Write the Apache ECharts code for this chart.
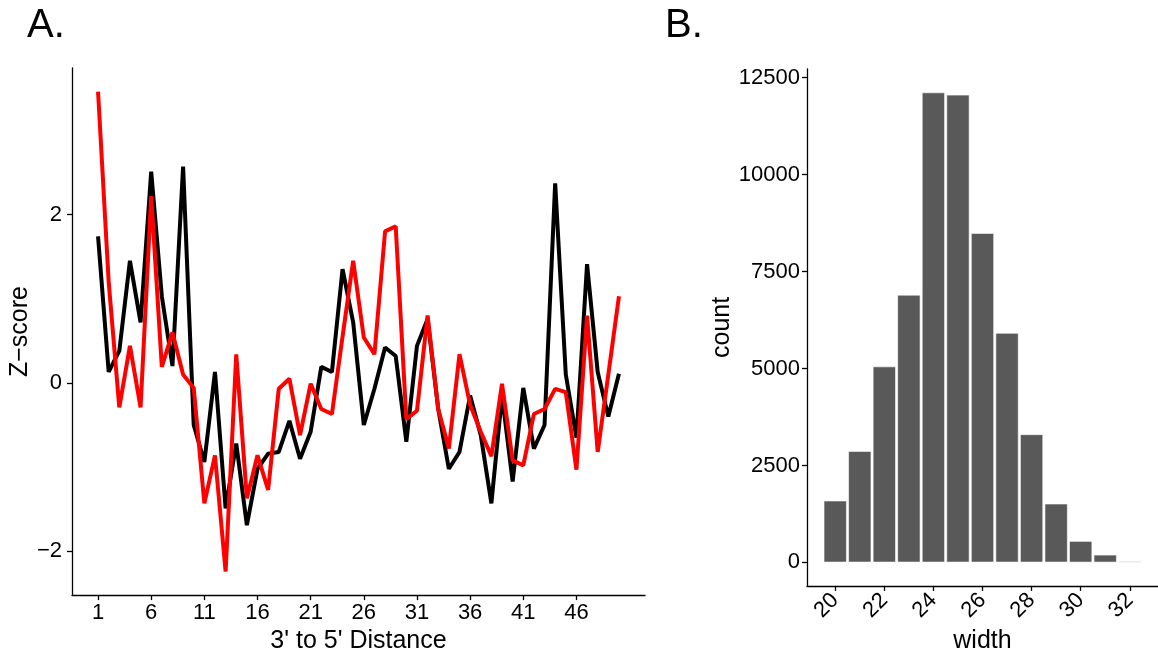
<!DOCTYPE html>
<html>
<head>
<meta charset="utf-8">
<script src="https://cdn.jsdelivr.net/npm/echarts@6/dist/echarts.min.js"></script>
<style>
  html, body { margin: 0; padding: 0; background: #fff; }
  #main { width: 1158px; height: 659px; }
</style>
</head>
<body>
<div id="main"></div>
<script>
// panel A: z-scores by 3' to 5' distance
const distance = [1, 2, 3, 4, 5, 6, 7, 8, 9, 10, 11, 12, 13, 14, 15, 16, 17, 18, 19, 20,
  21, 22, 23, 24, 25, 26, 27, 28, 29, 30, 31, 32, 33, 34, 35, 36, 37, 38, 39, 40,
  41, 42, 43, 44, 45, 46, 47, 48, 49, 50];
const blackZ = [1.74, 0.13, 0.38, 1.45, 0.72, 2.51, 1.03, 0.2, 2.57, -0.5,
  -0.94, 0.13, -1.49, -0.72, -1.69, -1.02, -0.84, -0.82, -0.45, -0.9,
  -0.58, 0.19, 0.13, 1.35, 0.72, -0.5, -0.07, 0.42, 0.32, -0.7,
  0.44, 0.76, -0.31, -1.02, -0.82, -0.15, -0.62, -1.43, -0.15, -1.17,
  -0.06, -0.78, -0.5, 2.37, 0.1, -0.65, 1.41, 0.13, -0.4, 0.11];
const redZ = [3.46, 1.2, -0.29, 0.44, -0.29, 2.22, 0.19, 0.6, 0.1, -0.06,
  -1.43, -0.86, -2.24, 0.34, -1.37, -0.86, -1.27, -0.07, 0.05, -0.62,
  -0.01, -0.31, -0.37, 0.55, 1.45, 0.54, 0.34, 1.8, 1.86, -0.43,
  -0.33, 0.8, -0.31, -0.78, 0.34, -0.26, -0.58, -0.87, -0.01, -0.92,
  -0.98, -0.37, -0.31, -0.07, -0.11, -1.03, 0.8, -0.82, 0.1, 1.03];
const distTicks = [1, 6, 11, 16, 21, 26, 31, 36, 41, 46];
const zTicks = [-2, 0, 2];

// panel B: histogram of width
const widthBins = [20, 21, 22, 23, 24, 25, 26, 27, 28, 29, 30, 31, 32];
const widthCount = [1592, 2870, 5051, 6899, 12117, 12058, 8491, 5916, 3302, 1513, 550, 197, 25];
const widthTicks = [20, 22, 24, 26, 28, 30, 32];
const countTicks = [0, 2500, 5000, 7500, 10000, 12500];

const font = 'Liberation Sans, Arial, sans-serif';
const axisLine = { show: true, onZero: false, lineStyle: { color: '#000', width: 1.3 } };
const axisTick = (vals) => ({ show: true, length: 5, lineStyle: { color: '#000', width: 1.3 }, customValues: vals });
const tickFont = 22;
const titleFont = 25;

let mychart = echarts.init(document.getElementById('main'));
let option = {
  animation: false,
  backgroundColor: '#fff',
  textStyle: { fontFamily: font },
  title: [
    { text: 'A.', left: 22, top: 1, textStyle: { fontSize: 40, fontWeight: 'normal', color: '#000', fontFamily: font } },
    { text: 'B.', left: 660, top: 1, textStyle: { fontSize: 40, fontWeight: 'normal', color: '#000', fontFamily: font } }
  ],
  grid: [
    { left: 72, top: 68, width: 573, height: 529 },
    { left: 807, top: 69, width: 354, height: 519 }
  ],
  xAxis: [
    {
      gridIndex: 0, type: 'value', min: -1.45, max: 52.45,
      name: "3' to 5' Distance", nameLocation: 'middle', nameGap: 30,
      nameTextStyle: { fontSize: titleFont, color: '#000', fontFamily: font },
      axisLine: axisLine, axisTick: axisTick(distTicks), splitLine: { show: false },
      axisLabel: { customValues: distTicks, fontSize: tickFont, color: '#000', margin: 7, fontFamily: font }
    },
    {
      gridIndex: 1, type: 'value', min: 18.85, max: 33.15,
      name: 'width', nameLocation: 'middle', nameGap: 42,
      nameTextStyle: { fontSize: titleFont, color: '#000', fontFamily: font },
      axisLine: axisLine, axisTick: axisTick(widthTicks), splitLine: { show: false },
      axisLabel: { customValues: widthTicks, fontSize: tickFont, color: '#000', margin: 11, rotate: 45, fontFamily: font }
    }
  ],
  yAxis: [
    {
      gridIndex: 0, type: 'value', min: -2.52, max: 3.74,
      name: 'Z\u2212score', nameLocation: 'middle', nameGap: 37,
      nameTextStyle: { fontSize: titleFont, color: '#000', fontFamily: font },
      axisLine: axisLine, axisTick: axisTick(zTicks), splitLine: { show: false },
      axisLabel: { customValues: zTicks, fontSize: tickFont, color: '#000', margin: 10, fontFamily: font,
        formatter: (v) => String(v).replace('-', '\u2212') }
    },
    {
      gridIndex: 1, type: 'value', min: -606, max: 12723,
      name: 'count', nameLocation: 'middle', nameGap: 72,
      nameTextStyle: { fontSize: titleFont, color: '#000', fontFamily: font },
      axisLine: axisLine, axisTick: axisTick(countTicks), splitLine: { show: false },
      axisLabel: { customValues: countTicks, fontSize: tickFont, color: '#000', margin: 7, fontFamily: font,
        formatter: (v) => String(v) }
    }
  ],
  series: [
    {
      name: 'black', type: 'line', xAxisIndex: 0, yAxisIndex: 0,
      data: distance.map((d, i) => [d, blackZ[i]]),
      showSymbol: false, lineStyle: { color: '#000', width: 4 }, z: 2
    },
    {
      name: 'red', type: 'line', xAxisIndex: 0, yAxisIndex: 0,
      data: distance.map((d, i) => [d, redZ[i]]),
      showSymbol: false, lineStyle: { color: '#ff0000', width: 4 }, z: 3
    },
    {
      name: 'count', type: 'bar', xAxisIndex: 1, yAxisIndex: 1,
      data: widthBins.map((w, i) => [w, widthCount[i]]),
      barWidth: 23, itemStyle: { color: '#595959', borderColor: '#fff', borderWidth: 0.6 }
    }
  ]
};
mychart.setOption(option);
</script>
</body>
</html>
